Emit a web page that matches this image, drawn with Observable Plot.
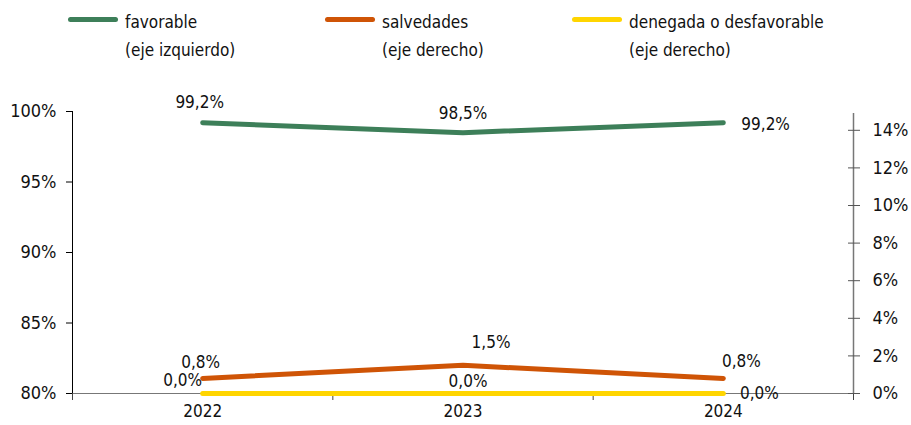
<!DOCTYPE html>
<html><head><meta charset="utf-8">
<script src="https://cdn.jsdelivr.net/npm/d3@7"></script>
<script src="https://cdn.jsdelivr.net/npm/@observablehq/plot@0.6"></script>
<style>
body{margin:0;background:#fff;font-family:"DejaVu Sans Condensed",sans-serif;}
#legend{position:relative;width:911px;height:70px;font-size:17px;color:#111;}
.item{position:absolute;top:8px;}
.sw{position:absolute;top:9px;width:50px;height:5px;border-radius:3px;}
.lab{position:absolute;left:57px;top:0;line-height:28px;white-space:nowrap;}
</style></head>
<body>
<div id="legend"></div>
<div id="chart"></div>
<script>
const years = [2022, 2023, 2024];
const favorable = [99.2, 98.5, 99.2];      // % eje izquierdo
const salvedades = [0.8, 1.5, 0.8];        // % eje derecho
const denegada = [0.0, 0.0, 0.0];          // % eje derecho
const seriesNames = ["favorable", "salvedades", "denegada o desfavorable"];
const seriesNotes = ["(eje izquierdo)", "(eje derecho)", "(eje derecho)"];
const colors = ["#3d7f59", "#cf5406", "#ffd500"];
const leftTicks = [80, 85, 90, 95, 100];
const rightTicks = [0, 2, 4, 6, 8, 10, 12, 14];

// right axis (0–15%) mapped onto left axis (80–100%)
const toLeft = v => 80 + v * 20 / 15;
const toRight = v => (v - 80) * 15 / 20;
const fmt = v => v.toFixed(1).replace(".", ",") + "%";

const favData = years.map((y, i) => ({year: y, v: favorable[i], y: favorable[i]}));
const salData = years.map((y, i) => ({year: y, v: salvedades[i], y: toLeft(salvedades[i])}));
const denData = years.map((y, i) => ({year: y, v: denegada[i], y: toLeft(denegada[i])}));

// legend
const leg = document.getElementById("legend");
const legX = [68, 325, 572];
seriesNames.forEach((n, i) => {
  const d = document.createElement("div");
  d.className = "item"; d.style.left = legX[i] + "px";
  d.innerHTML = `<div class="sw" style="background:${colors[i]}"></div><div class="lab">${n}<br>${seriesNotes[i]}</div>`;
  leg.appendChild(d);
});

const byYear = (data, yr) => data.filter(d => d.year === yr);
const lab = (data, yr, opts) => Plot.text(byYear(data, yr), {x: "year", y: "y", text: d => fmt(d.v), fontSize: 17, fill: "#111", ...opts});
const xEdges = [2021.5, 2024.5];

const chart = Plot.plot({
  width: 911, height: 355,
  marginTop: 41, marginBottom: 32, marginLeft: 72, marginRight: 58,
  style: {fontFamily: '"DejaVu Sans Condensed",sans-serif', fontSize: "17px", color: "#111"},
  x: {type: "linear", domain: xEdges},
  y: {domain: [80, 100]},
  marks: [
    // x axis
    Plot.ruleY([80], {stroke: "#777", strokeWidth: 1}),
    Plot.axisX({ticks: [2021.5, 2022.5, 2023.5, 2024.5], tickFormat: () => "", tickSize: 7, stroke: "#444", label: null}),
    Plot.axisX({ticks: years, tickFormat: d => String(d), tickSize: 0, tickPadding: 11, fontSize: 17, label: null}),
    // left axis
    Plot.ruleX([xEdges[0]], {y1: 80, y2: 100, stroke: "#000"}),
    Plot.axisY({anchor: "left", ticks: leftTicks, tickFormat: d => d + "%", tickSize: 6, tickPadding: 10, stroke: "#000", fontSize: 18, label: null}),
    // right axis
    Plot.ruleX([xEdges[1]], {y1: 80, y2: toLeft(14.9), stroke: "#777", strokeWidth: 1.5}),
    Plot.axisY({anchor: "right", ticks: rightTicks.map(toLeft), tickFormat: d => Math.round(toRight(d)) + "%", tickSize: 12, dx: -6, tickPadding: 13, stroke: "#555", fontSize: 18, textAnchor: "start", label: null}),
    // lines
    Plot.line(denData, {x: "year", y: "y", stroke: colors[2], strokeWidth: 5, strokeLinecap: "round"}),
    Plot.line(salData, {x: "year", y: "y", stroke: colors[1], strokeWidth: 5, strokeLinecap: "round", strokeLinejoin: "round"}),
    Plot.line(favData, {x: "year", y: "y", stroke: colors[0], strokeWidth: 5, strokeLinecap: "round", strokeLinejoin: "round"}),
    // labels
    lab(favData, 2022, {dx: -3, dy: -20}),
    lab(favData, 2023, {dy: -19}),
    lab(favData, 2024, {dx: 18, dy: 2, textAnchor: "start"}),
    lab(salData, 2022, {dx: -2, dy: -16}),
    lab(salData, 2023, {dx: 28, dy: -23}),
    lab(salData, 2024, {dx: 18, dy: -17}),
    lab(denData, 2022, {dx: -20, dy: -13}),
    lab(denData, 2023, {dx: 5, dy: -12}),
    lab(denData, 2024, {dx: 36, dy: 0})
  ]
});
document.getElementById("chart").appendChild(chart);
</script>
</body></html>
